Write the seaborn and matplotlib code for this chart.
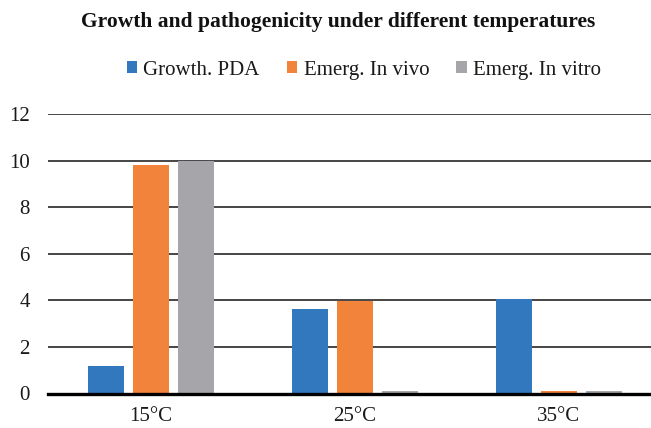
import matplotlib
matplotlib.use("Agg")
import matplotlib.pyplot as plt
import seaborn as sns
import pandas as pd
from matplotlib.patches import Patch

categories = ["15°C", "25°C", "35°C"]
series_names = ["Growth. PDA", "Emerg. In vivo", "Emerg. In vitro"]
growth_pda = [1.2, 3.63, 4.05]
emerg_in_vivo = [9.8, 3.97, 0.12]
emerg_in_vitro = [10.0, 0.12, 0.12]
y_ticks = [0, 2, 4, 6, 8, 10, 12]
colors = ["#3278BE", "#F2833B", "#A6A5A9"]
title = "Growth and pathogenicity under different temperatures"

rows = []
for name, vals in zip(series_names, [growth_pda, emerg_in_vivo, emerg_in_vitro]):
    for c, v in zip(categories, vals):
        rows.append({"temp": c, "series": name, "value": v})
df = pd.DataFrame(rows)

sns.set_theme(style="white")
plt.rcParams["font.family"] = ["Liberation Serif", "DejaVu Serif"]

fig = plt.figure(figsize=(6.51, 4.28), dpi=100)
ax = fig.add_axes([48 / 651, 1 - 393.5 / 428, 1 - 48 / 651, (393.5 - 114) / 428])

sns.barplot(data=df, x="temp", y="value", hue="series", order=categories,
            hue_order=series_names, palette=colors, width=0.662, gap=0.193,
            saturation=1, ax=ax, legend=False, linewidth=0)

ax.set_xlim(-0.505, 2.451)
ax.set_ylim(0, 12)
ax.set_yticks(y_ticks)
ax.set_yticklabels([str(t) for t in y_ticks])
ax.set_xlabel("")
ax.set_ylabel("")
ax.yaxis.grid(True, color="#262626", linewidth=1.2)
ax.set_axisbelow(True)
for s in ["top", "right", "left"]:
    ax.spines[s].set_visible(False)
ax.spines["bottom"].set_color("black")
ax.spines["bottom"].set_linewidth(2.4)
ax.spines["bottom"].set_zorder(5)
ax.tick_params(axis="both", length=0, labelsize=15, colors="#1a1a1a")
ax.tick_params(axis="y", pad=13)
ax.tick_params(axis="x", pad=10)

fig.text(0.519, 0.949, title, ha="center", va="center", fontsize=15.5,
         fontweight="bold", color="#111111")

handles = [Patch(facecolor=c, edgecolor="none") for c in colors]
fig.legend(handles, series_names, loc="center", bbox_to_anchor=(0.559, 0.836),
           ncol=3, frameon=False, fontsize=15, handlelength=0.5, handleheight=0.5,
           handletextpad=0.3, columnspacing=1.3, labelcolor="#1a1a1a")

fig.savefig("out.png", dpi=100)
